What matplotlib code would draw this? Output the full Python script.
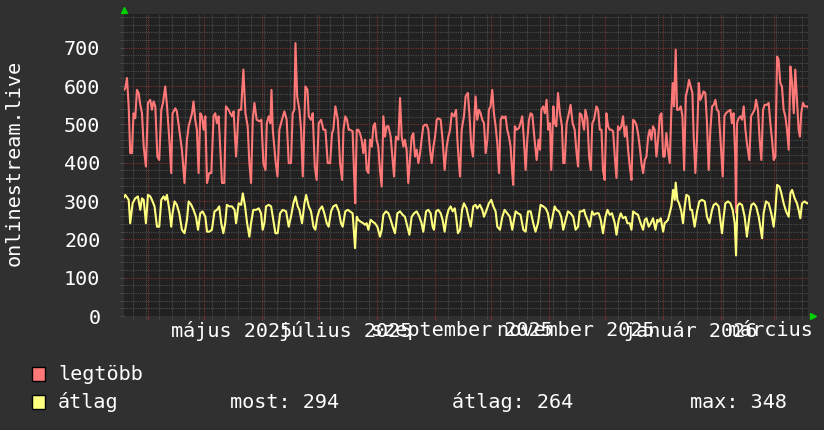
import numpy as np
import matplotlib
matplotlib.use('Agg')
import matplotlib.pyplot as plt
import matplotlib.dates as mdates
from matplotlib.patches import Rectangle

plt.rcParams['font.family'] = ['DejaVu Sans Mono']

start = np.datetime64('2025-03-19T05:00')
span_days = 365

max_days = [0.0, 0.7, 1.6, 2.5, 3.3, 4.2, 5.1, 6.0, 6.9, 7.8, 8.7, 9.6, 10.5, 11.7, 12.8, 14.0, 14.9, 15.8, 16.7, 17.8,
            18.8, 19.9, 20.8, 22.0, 22.9, 24.2, 25.2, 25.9, 27.4, 28.2, 29.5, 30.9, 32.3, 33.6, 34.5, 35.4, 36.3, 37.1,
            38.0, 38.9, 39.8, 40.7, 41.6, 42.5, 43.4, 44.3, 45.5, 46.6, 47.8, 48.7, 49.6, 50.5, 51.4, 52.3, 53.5, 54.4,
            55.8, 56.7, 57.6, 58.5,
            59.8, 61.2, 62.5, 63.7, 64.8, 66.0, 66.9, 67.8, 68.7, 69.6, 70.8, 72.3, 73.3, 74.4, 75.5, 76.2, 77.2, 78.1,
            78.7, 79.4, 80.8, 81.9, 82.9, 84.3, 85.6, 86.8, 87.9, 89.1, 90.0, 90.9, 91.5, 92.4, 93.6, 94.5, 95.4, 96.3,
            96.8, 97.9, 98.6, 99.8, 100.7, 101.8, 102.8, 103.9, 105.2, 106.4, 107.5, 108.7, 110.0, 111.0, 111.7, 112.8,
            114.1, 115.3, 116.4, 117.1, 118.1, 119.0, 119.9,
            120.6, 122.0, 122.7, 123.4, 124.2, 125.0, 125.9, 126.8, 127.7, 128.6, 129.5, 130.4, 131.3, 132.2, 133.1,
            133.9, 134.8, 135.7, 136.6, 137.5, 138.4, 139.3, 140.2, 141.1, 142.3, 143.2, 144.1, 145.1, 146.4, 147.3,
            148.2, 149.1, 149.9, 150.8, 151.7, 152.6, 153.5, 154.4, 155.3, 156.2, 157.1, 158.0, 158.8, 159.7, 160.6,
            161.5, 162.4, 163.3, 164.2, 165.1, 166.0, 166.9, 167.7, 169.0, 170.0, 171.1, 172.2, 173.1, 174.0, 174.9,
            176.1, 177.2, 177.9, 178.6, 179.3, 180.2, 181.1,
            181.4, 182.3, 183.5, 184.4, 185.3, 186.2, 187.1, 187.6, 188.5, 189.4, 190.3, 191.2, 192.1, 193.0, 193.9,
            194.7, 195.6, 196.5, 197.4, 198.3, 199.2, 200.1, 201.0, 201.9, 202.7, 203.6, 204.5, 205.4, 206.3, 207.2,
            207.7, 208.6, 209.5, 210.7, 211.6, 212.5, 213.4, 214.3, 215.2, 216.1, 217.0, 217.9, 219.1, 220.2, 221.2,
            222.0, 222.7, 223.7, 224.6, 225.5, 226.4, 227.3, 228.0, 229.1, 229.8, 230.7, 231.6, 232.6, 233.7, 234.4,
            235.1, 236.2, 237.4, 238.3, 239.4, 240.5, 241.5,
            242.3, 243.2, 244.1, 245.5, 246.2, 247.3, 248.2, 249.1, 249.9, 250.8, 252.1, 253.0, 253.9, 254.8, 255.6,
            256.5, 257.4, 258.3, 259.2, 260.1, 261.0, 261.9, 262.8, 263.6, 264.5, 265.4, 266.3, 267.2, 268.1, 269.0,
            269.9, 270.8, 271.7, 272.5, 273.4, 274.3, 275.2, 276.1, 277.0, 277.9, 278.8, 279.7, 280.5, 281.4, 282.3,
            283.2, 284.1, 285.0, 285.9, 286.8, 287.7, 288.5, 289.4, 290.3, 291.2, 292.1, 292.8, 293.5, 294.4, 295.1,
            296.0, 297.1, 298.0, 298.9, 299.8, 300.6, 301.5, 302.4, 303.3,
            304.0, 304.9, 305.8, 306.7, 307.5, 308.4, 309.3, 310.2, 311.1, 312.0, 312.9, 313.8, 314.7, 315.6, 316.4,
            317.3, 318.2, 319.5, 320.4, 321.2, 322.3, 323.6, 324.4, 325.3, 326.2, 326.6, 327.1, 328.0, 328.9, 329.8,
            330.7, 331.6, 332.4, 333.7, 334.6, 335.5, 336.5, 337.3, 338.3, 339.2, 340.1, 341.0, 341.9, 343.1, 344.0,
            344.9, 345.8, 346.7, 347.6, 348.5, 349.3, 350.2, 351.1, 352.0, 352.9, 353.8, 354.7, 355.6, 356.5, 357.4,
            358.2, 359.1, 360.0, 360.7, 361.4, 362.3, 363.2, 364.5, 365.0]
max_vals = [590, 595, 621, 547, 425, 425, 529, 516, 590, 582, 551, 529, 442, 390, 556, 564, 538, 560, 547, 416,
            407, 538, 556, 599, 551, 460, 373, 529, 542, 534, 486, 434, 347, 460, 495, 512, 529, 560,
            512, 486, 373, 529, 521, 486, 521, 347, 373, 373, 521, 529, 503, 521, 434, 347, 347, 547,
            538, 529, 521, 534,
            416, 538, 538, 643, 529, 495, 399, 347, 512, 556, 512, 508, 512, 399, 381, 503, 521, 503,
            590, 486, 407, 364, 486, 512, 534, 512, 399, 399, 529, 538, 712, 573, 538, 486, 364, 521,
            599, 590, 521, 512, 529, 390, 355, 503, 512, 486, 486, 399, 399, 477, 486, 547,
            512, 399, 355, 486, 521, 512, 486,
            486, 482, 381, 294, 486, 486, 477, 460, 425, 460, 381, 373, 460, 442, 495,
            503, 460, 442, 381, 338, 521, 468, 495, 495, 468, 416, 364, 468, 460, 569,
            468, 442, 460, 434, 347, 407, 468, 477, 416, 434, 399, 425, 460, 495, 499,
            499, 486, 434, 399, 442, 468, 512, 516, 512, 460, 381, 442, 468, 486, 529,
            521, 538, 460, 407, 364, 486, 512,
            521, 573, 582, 521, 442, 416, 529, 573, 512, 538, 529, 512, 503, 425, 460,
            538, 547, 590, 529, 495, 451, 373, 512, 521, 516, 521, 486, 468, 442, 373,
            342, 495, 486, 490, 503, 521, 460, 381, 460, 512, 529, 525, 460, 407, 460,
            434, 538, 547, 529, 564, 486, 503, 381, 547, 503, 495, 582, 529, 495, 399,
            399, 503, 529, 551, 503, 486, 425,
            390, 529, 525, 486, 538, 512, 416, 381, 503, 512, 547, 538, 486, 486, 381,
            355, 529, 495, 486, 486, 482, 416, 360, 495, 486, 495, 521, 468, 495, 434,
            390, 355, 512, 508, 499, 477, 442, 399, 373, 407, 416, 468, 486, 460, 495,
            486, 416, 460, 521, 529, 416, 416, 477, 434, 399, 538, 608, 547, 695, 538,
            538, 547, 521, 381, 573, 590, 616, 599, 582,
            468, 373, 468, 608, 564, 573, 586, 582, 503, 381, 486, 547, 551, 564, 538,
            534, 468, 364, 521, 529, 534, 538, 503, 529, 407, 270, 503, 516, 521, 512,
            547, 486, 451, 407, 521, 529, 538, 564, 538, 460, 407, 538, 551, 551, 556,
            503, 460, 407, 416, 677, 669, 608, 599, 538, 521, 486, 434, 651, 608, 529,
            643, 564, 486, 468, 529, 556, 547, 547, 545]

avg_days = [0.0, 0.7, 2.5, 3.3, 4.6, 6.0, 7.4, 8.7, 9.6, 10.5, 11.7, 12.8, 14.0, 14.9, 16.3, 17.6, 18.8, 19.9, 21.1,
            22.0, 22.9, 24.2, 25.2, 25.9, 27.0, 28.2, 29.5, 30.9, 32.3, 33.6, 34.5, 35.9, 37.1, 38.4, 39.5, 40.7, 41.9,
            43.4, 44.3, 45.5, 46.9, 48.3, 49.6, 50.8, 51.9, 53.0, 54.0, 54.9, 56.2, 57.6, 59.0,
            59.8, 61.2, 62.5, 63.4, 64.6, 65.7, 66.9, 67.8, 69.0, 70.5, 71.9, 73.1, 74.0, 74.9, 75.8, 77.2, 78.5, 79.4,
            80.8, 82.0, 83.3, 84.7, 86.5, 87.9, 89.1, 90.4, 91.5, 92.7, 93.6, 95.0, 96.3, 97.2, 98.6, 99.8, 101.1,
            102.1, 103.2, 104.3, 105.7, 106.9, 108.2, 109.2, 110.5, 111.7, 113.2, 114.6, 115.8, 116.7, 118.1, 119.4,
            120.6, 122.0, 123.3, 124.2, 125.0, 126.3, 127.7, 128.6, 129.5, 130.4, 131.6, 132.7, 133.9, 135.2, 136.6,
            137.5, 138.4, 139.8, 141.1, 142.3, 143.4, 144.6, 145.9, 147.3, 148.7, 149.9, 151.2, 152.3, 153.5, 154.8,
            156.2, 157.6, 158.8, 159.7, 161.2, 162.4, 163.6, 164.7, 165.4, 166.5, 167.7, 169.0, 170.0, 171.1, 172.2,
            173.2, 174.3, 175.4, 176.5, 177.2, 178.2, 179.3, 180.4,
            181.4, 182.8, 184.1, 185.0, 186.4, 187.6, 188.5, 189.9, 191.2, 192.1, 193.5, 194.7, 196.0, 197.1, 198.3,
            199.2, 200.6, 201.9, 203.1, 204.5, 205.9, 207.2, 208.1, 209.0, 210.2, 211.6, 213.1, 214.3, 215.6, 217.0,
            218.4, 219.6, 220.9, 222.3, 223.7, 225.0, 226.2, 227.6, 228.7, 229.8, 230.8, 232.1, 233.3, 234.4, 235.7,
            236.9, 238.3, 239.7, 241.0,
            242.3, 243.2, 244.4, 245.5, 246.2, 247.3, 248.5, 249.8, 250.8, 252.1, 253.3, 254.4, 255.6, 256.9, 258.0,
            259.2, 260.4, 261.9, 262.8, 264.0, 265.1, 266.3, 267.6, 268.6, 269.9, 270.8, 271.7, 272.9, 274.3, 275.7,
            277.0, 277.9, 278.8, 280.0, 281.1, 282.3, 283.6, 284.6, 285.3, 286.4, 287.7, 288.5, 289.4, 290.3, 291.2,
            292.1, 293.0, 293.9, 294.4, 295.3, 296.2, 297.4, 298.3, 299.2, 300.1, 301.4, 302.2,
            303.1, 304.5, 305.8, 307.0, 308.4, 309.9, 311.1, 312.4, 313.8, 314.7, 315.9, 317.3, 318.2, 319.1, 320.0,
            320.9, 322.3, 323.6, 324.8, 325.9, 326.6, 327.3, 328.4, 329.8, 331.2, 332.4, 333.7, 334.8, 336.0, 337.3,
            338.7, 340.5, 341.3, 342.6, 344.0, 345.4, 346.7, 347.6, 348.5, 349.7, 350.8, 352.0, 353.3, 354.7, 355.6,
            356.5, 357.9, 359.1, 360.0, 360.9, 361.8, 363.2, 364.5, 365.0]
avg_vals = [310, 316, 303, 242, 294, 307, 312, 277, 307, 303, 242, 316, 312, 303, 286, 233, 233, 303, 312,
            303, 316, 277, 233, 268, 299, 290, 268, 225, 216, 251, 299, 290, 277, 259, 225, 268, 273,
            259, 220, 220, 225, 273, 277, 286, 242, 216, 242, 290, 286, 286, 277,
            242, 294, 290, 320, 286, 242, 207, 242, 277, 277, 281, 268, 225, 242, 286, 290, 286, 259,
            216, 216, 268, 277, 273, 233, 259, 294, 312, 286, 277, 242, 294, 316, 286, 273, 233,
            225, 259, 277, 286, 268, 242, 233, 273, 286, 290, 273, 242, 233, 273, 277,
            273, 268, 177, 259, 251, 246, 242, 238, 242, 225, 251, 246, 242, 233, 207,
            225, 264, 273, 268, 251, 233, 216, 268, 273, 264, 259, 233, 212, 259, 268,
            273, 259, 242, 220, 273, 277, 268, 233, 225, 273, 277, 268, 251, 220, 259,
            277, 286, 273, 281, 259, 216, 225, 277,
            294, 281, 251, 233, 286, 290, 281, 290, 277, 259, 277, 294, 303, 286, 273,
            233, 225, 259, 277, 268, 259, 225, 251, 273, 268, 264, 225, 220, 273, 273,
            242, 220, 242, 290, 286, 281, 268, 229, 259, 286, 277, 273, 259, 225, 251,
            273, 268, 259, 225,
            233, 273, 273, 277, 264, 251, 233, 273, 264, 268, 268, 251, 216, 259, 277,
            264, 268, 242, 212, 251, 268, 255, 259, 242, 242, 225, 273, 268, 264, 242,
            225, 251, 255, 233, 242, 255, 225, 251, 246, 255, 220, 242, 246, 251, 268,
            286, 329, 303, 348, 303, 294, 273, 242, 286, 316, 312, 277,
            277, 233, 273, 299, 303, 299, 259, 242, 277, 290, 294, 286, 251, 216, 259,
            294, 299, 294, 277, 242, 158, 286, 294, 290, 259, 207, 259, 290, 294, 286,
            259, 203, 268, 299, 294, 268, 233, 277, 342, 338, 320, 294, 273, 259, 320,
            329, 307, 294, 277, 255, 294, 299, 294, 294]

month_labels = ['május 2025', 'július 2025', 'szeptember 2025', 'november 2025', 'január 2026', 'március 2026']
label_dates = ['2025-05-15T12:00', '2025-07-15T12:00', '2025-09-15T12:00',
               '2025-11-15T12:00', '2026-01-15T12:00', '2026-03-15T12:00']
y_ticks = [0, 100, 200, 300, 400, 500, 600, 700]
series_names = ['legtöbb', 'átlag']
avg_stats = ['most: 294', 'átlag: 264', 'max: 348']

red = '#ff7878'
yellow = '#ffff80'
W, H = 824, 430


def to_dates(days):
	return start + np.round(np.array(days) * 1440).astype('timedelta64[m]')


fig = plt.figure(figsize=(W / 100, H / 100), dpi=100, facecolor='#303030')
ax = fig.add_axes([124 / W, 114 / H, 684 / W, 302 / H])
ax.set_facecolor('#212121')

ax.plot(to_dates(max_days), max_vals, color=red, lw=1.5, zorder=3)
ax.plot(to_dates(avg_days), avg_vals, color=yellow, lw=1.5, zorder=4)

ax.set_xlim(start, start + np.timedelta64(span_days, 'D'))
ax.set_ylim(0, 788)

ax.xaxis.set_major_locator(mdates.MonthLocator())
ax.xaxis.set_minor_locator(mdates.WeekdayLocator(byweekday=mdates.MO))
ax.xaxis.set_major_formatter(plt.NullFormatter())
ax.set_yticks(y_ticks)
ax.set_yticks(np.arange(0, 788, 20), minor=True)

ax.grid(which='minor', color='#4c4c4c', lw=0.8, ls=(0, (1, 1)), zorder=1)
ax.grid(which='major', color='#7a3030', lw=0.8, ls=(0, (1, 1)), zorder=2)
ax.tick_params(axis='x', which='major', length=3, color='#7a3030')
ax.tick_params(axis='x', which='minor', length=2, color='#4c4c4c')
ax.tick_params(axis='y', which='both', length=3, color='#4c4c4c', labelcolor='white',
			   labelsize=14.5, pad=14)
for s in ax.spines.values():
	s.set_visible(False)

for lab, d in zip(month_labels, label_dates):
	ax.text(np.datetime64(d), -15 / 302, lab, transform=ax.get_xaxis_transform(),
			ha='center', va='center', color='white', fontsize=14.5, clip_on=False)

fig.text(14 / W, 1 - 163 / H, 'onlinestream.live', rotation=90, ha='center', va='center',
		 color='white', fontsize=14.5)

# green arrows at the axis ends
ax.plot([0], [1 + 4 / 302], transform=ax.transAxes, marker='^', ms=5, color='#00d000', clip_on=False)
ax.plot([1 + 5 / 684], [0], transform=ax.transAxes, marker='>', ms=5, color='#00d000', clip_on=False)

# legend
for i, (name, col) in enumerate(zip(series_names, [red, yellow])):
	yc = 374 + 28 * i
	fig.patches.append(Rectangle((32 / W, 1 - (yc + 7) / H), 13 / W, 14 / H, transform=fig.transFigure,
								 facecolor=col, edgecolor='black', lw=1))
	fig.text(58 / W, 1 - yc / H, name, ha='left', va='center', color='white', fontsize=14.5)
for txt, x in zip(avg_stats, [230, 452, 690]):
	fig.text(x / W, 1 - 402 / H, txt, ha='left', va='center', color='white', fontsize=14.5)

fig.savefig('out.png', dpi=100, facecolor=fig.get_facecolor())
